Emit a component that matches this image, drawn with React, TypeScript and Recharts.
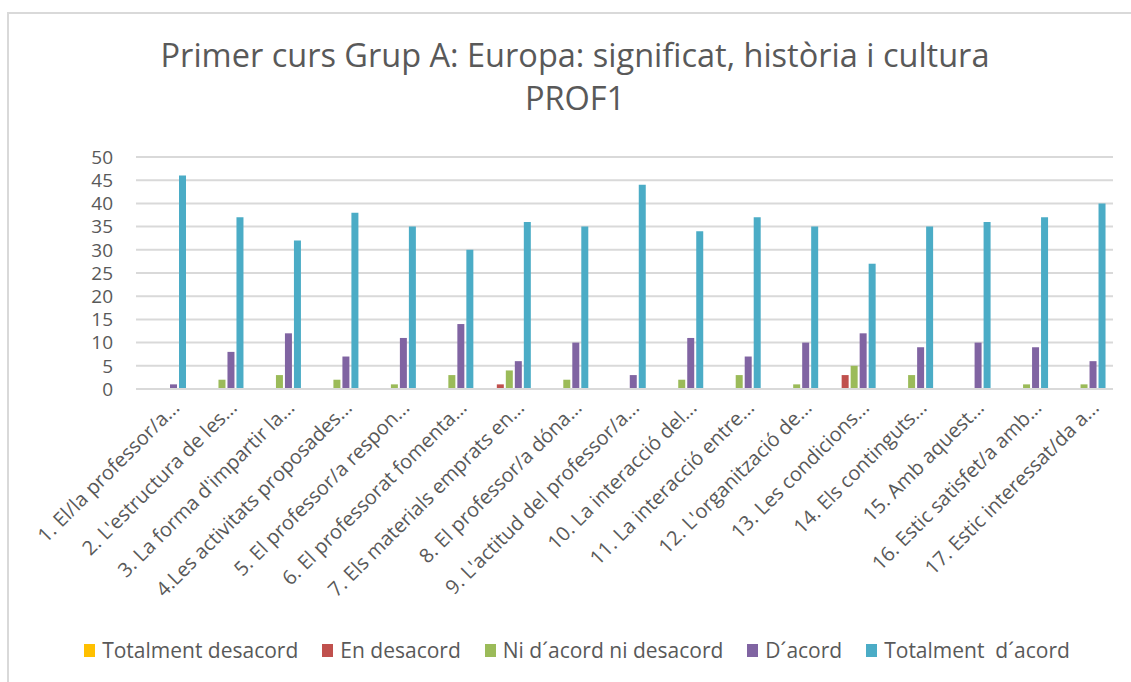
import React from 'react';
import { BarChart, Bar, XAxis, YAxis, CartesianGrid, Legend } from 'recharts';

// Survey items (labels are truncated as in the source chart)
const categories = [
  '1. El/la professor/a...',
  "2. L'estructura de les...",
  "3. La forma d'impartir la...",
  '4.Les activitats proposades...',
  '5. El professor/a respon...',
  '6. El professorat fomenta...',
  '7. Els materials emprats en...',
  '8. El professor/a dóna...',
  "9. L'actitud del professor/a...",
  '10. La interacció del...',
  '11. La interacció entre...',
  "12. L'organització de...",
  '13. Les condicions...',
  '14. Els continguts...',
  '15. Amb aquest...',
  '16. Estic satisfet/a amb...',
  '17. Estic interessat/da a...'
];

const totalmentDesacord = [0, 0, 0, 0, 0, 0, 0, 0, 0, 0, 0, 0, 0, 0, 0, 0, 0];
const enDesacord = [0, 0, 0, 0, 0, 0, 1, 0, 0, 0, 0, 0, 3, 0, 0, 0, 0];
const niAcord = [0, 2, 3, 2, 1, 3, 4, 2, 0, 2, 3, 1, 5, 3, 0, 1, 1];
const dAcord = [1, 8, 12, 7, 11, 14, 6, 10, 3, 11, 7, 10, 12, 9, 10, 9, 6];
const totalmentAcord = [46, 37, 32, 38, 35, 30, 36, 35, 44, 34, 37, 35, 27, 35, 36, 37, 40];

const yTicks = [0, 5, 10, 15, 20, 25, 30, 35, 40, 45, 50];

const series = [
  { key: 'td', name: 'Totalment desacord', color: '#FFC000', values: totalmentDesacord },
  { key: 'ed', name: 'En desacord', color: '#C0504D', values: enDesacord },
  { key: 'ni', name: 'Ni d´acord ni desacord', color: '#9BBB59', values: niAcord },
  { key: 'da', name: 'D´acord', color: '#8064A2', values: dAcord },
  { key: 'ta', name: 'Totalment  d´acord', color: '#4BACC6', values: totalmentAcord }
];

const chartData = categories.map((name, i) => {
  const row: Record<string, string | number> = { name };
  series.forEach(s => {
    row[s.key] = s.values[i];
  });
  return row;
});

const FONT = '"Open Sans", sans-serif';
const TEXT = '#595959';

const RotatedTick = ({ x, y, payload }: any) => (
  <g transform={`translate(${x + 16},${y + 20})`}>
    <text
      x={0}
      y={0}
      textAnchor="end"
      transform="rotate(-45)"
      fill={TEXT}
      fontSize={20}
      fontFamily={FONT}
    >
      {payload.value}
    </text>
  </g>
);

const LegendContent = () => (
  <div
    style={{
      display: 'flex',
      justifyContent: 'center',
      alignItems: 'center',
      height: 30,
      paddingLeft: 14,
      fontFamily: FONT,
      fontSize: 21,
      color: TEXT
    }}
  >
    {series.map((s, i) => (
      <div
        key={s.key}
        style={{ display: 'flex', alignItems: 'center', marginRight: i < series.length - 1 ? 24 : 0 }}
      >
        <span style={{ width: 11, height: 13, background: s.color, marginRight: 7, display: 'inline-block' }} />
        <span style={{ whiteSpace: 'pre' }}>{s.name}</span>
      </div>
    ))}
  </div>
);

export default function App() {
  return (
    <div
      style={{
        position: 'absolute',
        left: 7,
        top: 12,
        width: 1122,
        height: 668,
        borderLeft: '2px solid #d9d9d9',
        borderTop: '2px solid #d9d9d9',
        background: '#fff',
        overflow: 'hidden'
      }}
    >
      <div
        style={{
          position: 'absolute',
          left: 5,
          top: 19,
          width: 1122,
          textAlign: 'center',
          fontFamily: FONT,
          fontSize: 32.5,
          lineHeight: '43px',
          color: TEXT
        }}
      >
        <div>Primer curs Grup A: Europa: significat, història i cultura</div>
        <div>PROF1</div>
      </div>
      <BarChart
        width={1122}
        height={668}
        data={chartData}
        margin={{ top: 143, right: 18, bottom: 17, left: 87 }}
        barSize={7}
        barGap={2}
      >
        <CartesianGrid vertical={false} stroke="#d9d9d9" strokeWidth={2} />
        <XAxis
          dataKey="name"
          interval={0}
          height={246}
          tickLine={false}
          tickSize={0}
          tickMargin={0}
          axisLine={{ stroke: '#d9d9d9', strokeWidth: 2 }}
          tick={<RotatedTick />}
        />
        <YAxis
          width={40}
          domain={[0, 50]}
          ticks={yTicks}
          interval={0}
          tickLine={false}
          axisLine={false}
          tickSize={6}
          tickMargin={17}
          tick={{ fill: TEXT, fontSize: 19, fontFamily: FONT }}
        />
        <Legend
          verticalAlign="bottom"
          wrapperStyle={{ left: 0, width: 1122 }}
          content={<LegendContent />}
        />
        {series.map(s => (
          <Bar key={s.key} dataKey={s.key} name={s.name} fill={s.color} isAnimationActive={false} />
        ))}
      </BarChart>
    </div>
  );
}
